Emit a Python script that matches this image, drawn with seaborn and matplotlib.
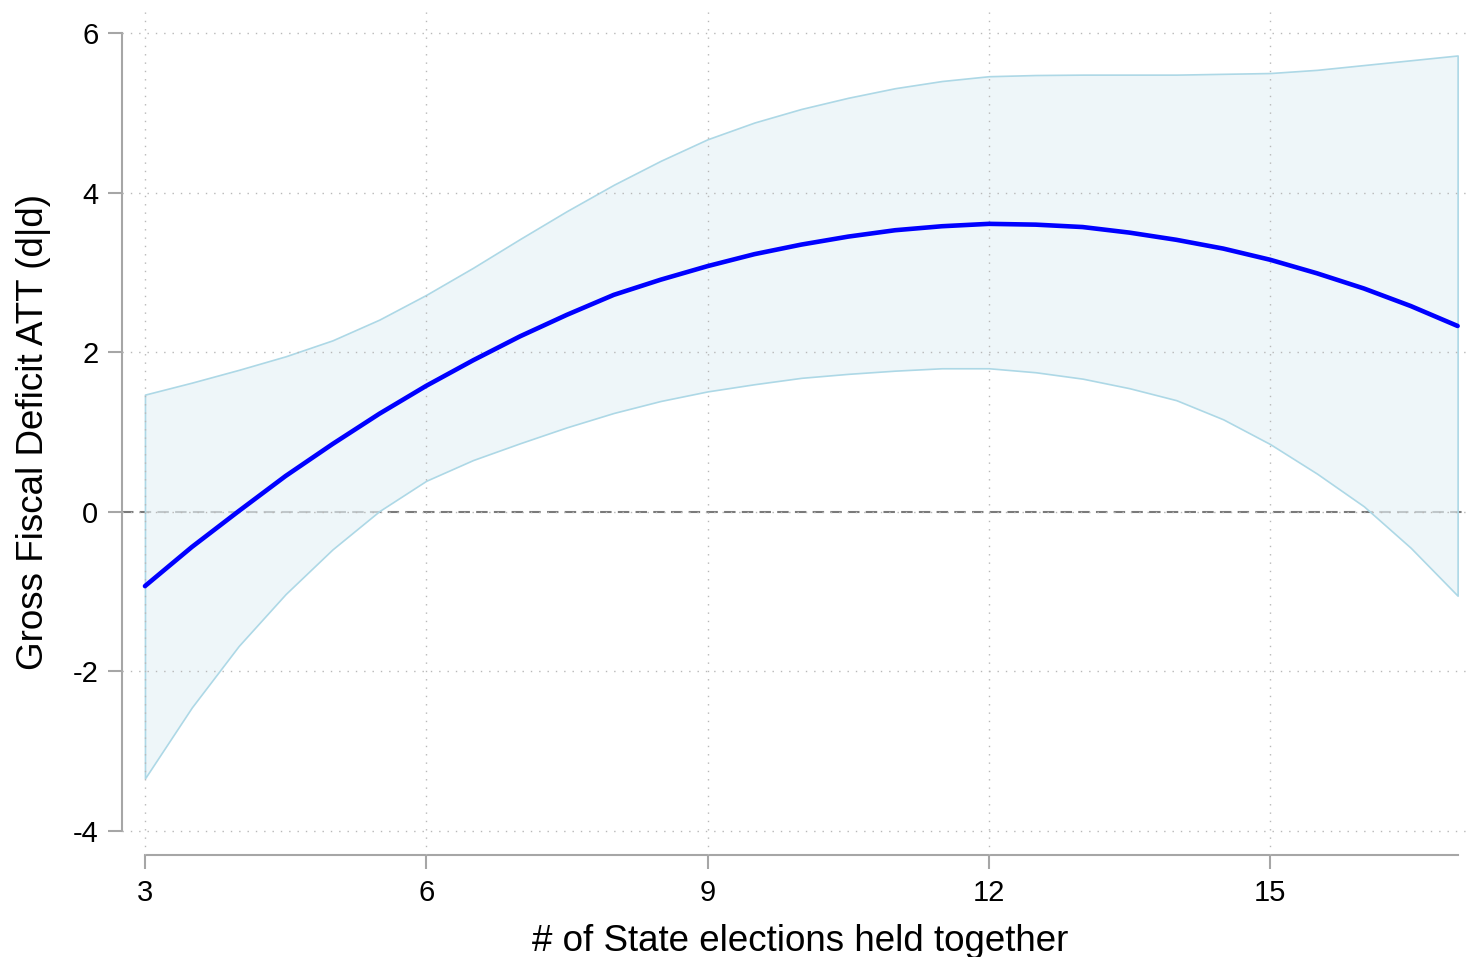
import numpy as np
import pandas as pd
import matplotlib
matplotlib.use('Agg')
import matplotlib.pyplot as plt
import seaborn as sns

# values (every half step)
n_elections = [3, 3.5, 4, 4.5, 5, 5.5, 6, 6.5, 7, 7.5, 8, 8.5, 9, 9.5, 10,
               10.5, 11, 11.5, 12, 12.5, 13, 13.5, 14, 14.5, 15, 15.5, 16, 16.5, 17]
att = [-0.93, -0.44, 0.01, 0.45, 0.85, 1.23, 1.58, 1.90, 2.20, 2.47, 2.72, 2.91, 3.08, 3.23, 3.35,
       3.45, 3.53, 3.58, 3.61, 3.60, 3.57, 3.50, 3.41, 3.30, 3.16, 2.99, 2.80, 2.58, 2.33]
ci_upper = [1.47, 1.62, 1.78, 1.95, 2.15, 2.41, 2.72, 3.06, 3.42, 3.77, 4.10, 4.40, 4.67, 4.88, 5.05,
            5.19, 5.31, 5.40, 5.46, 5.475, 5.48, 5.48, 5.48, 5.49, 5.50, 5.54, 5.60, 5.66, 5.72]
ci_lower = [-3.34, -2.45, -1.68, -1.03, -0.47, 0.01, 0.39, 0.65, 0.86, 1.06, 1.24, 1.39, 1.51, 1.60, 1.68,
            1.73, 1.77, 1.80, 1.80, 1.75, 1.67, 1.55, 1.40, 1.16, 0.85, 0.48, 0.07, -0.45, -1.05]

x_ticks = [3, 6, 9, 12, 15]
y_ticks = [-4, -2, 0, 2, 4, 6]

df = pd.DataFrame({'n': n_elections, 'att': att, 'lo': ci_lower, 'hi': ci_upper})

sns.set_theme(style='white')
plt.rcParams['font.family'] = ['Liberation Sans', 'DejaVu Sans']

fig = plt.figure(figsize=(14.67, 9.57), dpi=100)
ax = fig.add_axes([122 / 1467, 1 - 855 / 957, 1345 / 1467, 843 / 957])

axis_grey = '#a6a6a6'

# zero reference line (under the band)
ax.axhline(0, color='#7a7a7a', lw=1.5, dashes=(5.5, 3), zorder=1)

# confidence band
ax.fill_between(df['n'], df['lo'], df['hi'],
                facecolor=(0.902, 0.949, 0.965, 0.65),
                edgecolor='#add8e6', lw=1.2, zorder=2)

# point estimate
sns.lineplot(data=df, x='n', y='att', color='#0000ff', lw=3.3, ax=ax,
             errorbar=None, zorder=4)

# dotted grid
for xv in x_ticks:
    ax.axvline(xv, color='#b8b8b8', lw=1.0, ls=(0, (1, 5)), zorder=3)
for yv in y_ticks:
    ax.axhline(yv, color='#b8b8b8', lw=1.0, ls=(0, (1, 5)), zorder=3)

ax.set_xlim(2.755, 17.1)
ax.set_ylim(-4.30, 6.265)
ax.set_xticks(x_ticks)
ax.set_yticks(y_ticks)
ax.set_xticklabels([str(v) for v in x_ticks])
ax.set_yticklabels([str(v) for v in y_ticks])

for s in ['top', 'right']:
    ax.spines[s].set_visible(False)
ax.spines['left'].set_bounds(-4, 6)
ax.spines['bottom'].set_bounds(3, 17)
for s in ['left', 'bottom']:
    ax.spines[s].set_color(axis_grey)
    ax.spines[s].set_linewidth(1.5)

ax.tick_params(axis='both', direction='out', length=10, width=1.5,
               color=axis_grey, labelsize=21, labelcolor='black', pad=7)
ax.tick_params(axis='x', bottom=True)
ax.tick_params(axis='y', left=True)

ax.set_xlabel('# of State elections held together', fontsize=26.5, color='black')
ax.set_ylabel('Gross Fiscal Deficit ATT (d|d)', fontsize=26.5, color='black')
ax.xaxis.set_label_coords(0.5045, -0.0820)
ax.yaxis.set_label_coords(-0.0529, 0.502)

fig.savefig('out.png', dpi=100, facecolor='white')
